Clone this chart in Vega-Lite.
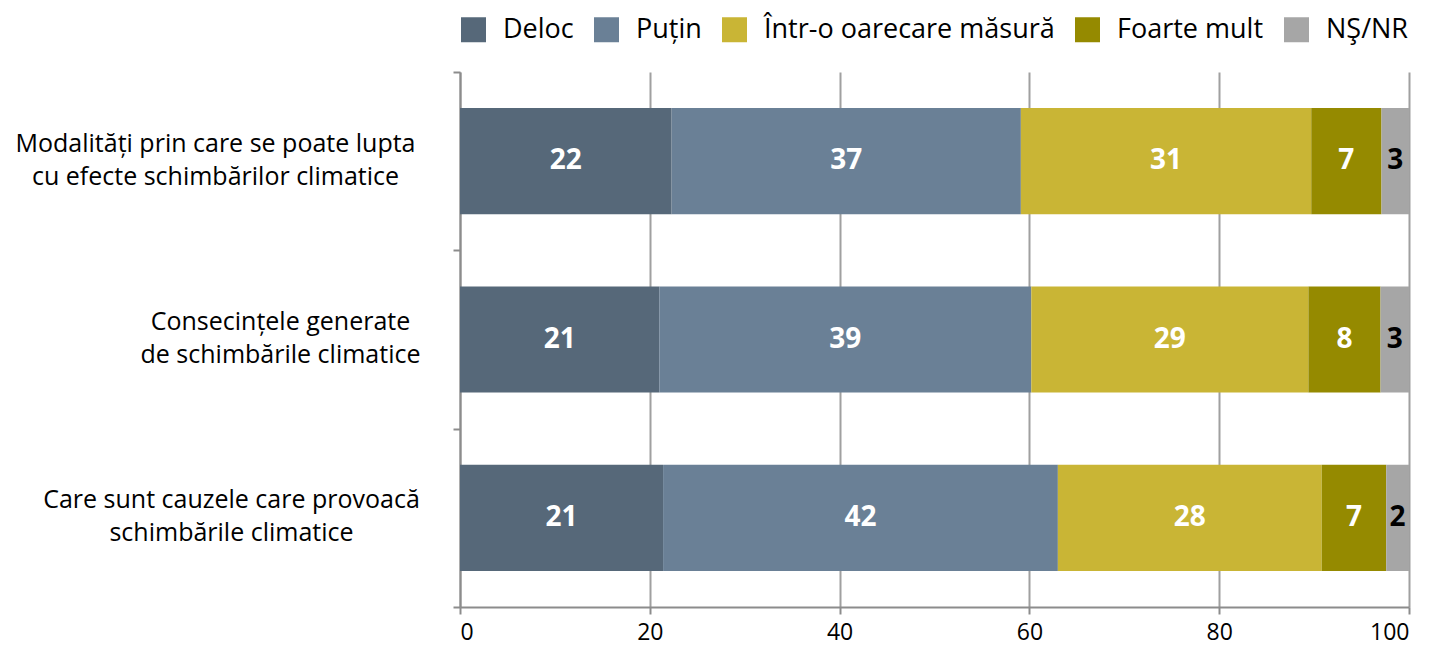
{
  "$schema": "https://vega.github.io/schema/vega-lite/v6.json",
  "autosize": "none",
  "width": 949,
  "height": 535,
  "padding": {"left": 460, "top": 72, "right": 24, "bottom": 39},
  "background": "white",
  "config": {
    "view": {"stroke": null},
    "font": "Open Sans"
  },
  "data": {
    "values": [
      {"q": "Modalități prin care se poate lupta\ncu efecte schimbărilor climatice", "cat": "Deloc", "ord": 1, "v": 22.3},
      {"q": "Modalități prin care se poate lupta\ncu efecte schimbărilor climatice", "cat": "Puțin", "ord": 2, "v": 36.8},
      {"q": "Modalități prin care se poate lupta\ncu efecte schimbărilor climatice", "cat": "Într-o oarecare măsură", "ord": 3, "v": 30.6},
      {"q": "Modalități prin care se poate lupta\ncu efecte schimbărilor climatice", "cat": "Foarte mult", "ord": 4, "v": 7.4},
      {"q": "Modalități prin care se poate lupta\ncu efecte schimbărilor climatice", "cat": "NŞ/NR", "ord": 5, "v": 2.9},
      {"q": "Consecințele generate\nde schimbările climatice", "cat": "Deloc", "ord": 1, "v": 21.0},
      {"q": "Consecințele generate\nde schimbările climatice", "cat": "Puțin", "ord": 2, "v": 39.2},
      {"q": "Consecințele generate\nde schimbările climatice", "cat": "Într-o oarecare măsură", "ord": 3, "v": 29.2},
      {"q": "Consecințele generate\nde schimbările climatice", "cat": "Foarte mult", "ord": 4, "v": 7.6},
      {"q": "Consecințele generate\nde schimbările climatice", "cat": "NŞ/NR", "ord": 5, "v": 3.0},
      {"q": "Care sunt cauzele care provoacă\nschimbările climatice", "cat": "Deloc", "ord": 1, "v": 21.4},
      {"q": "Care sunt cauzele care provoacă\nschimbările climatice", "cat": "Puțin", "ord": 2, "v": 41.6},
      {"q": "Care sunt cauzele care provoacă\nschimbările climatice", "cat": "Într-o oarecare măsură", "ord": 3, "v": 27.8},
      {"q": "Care sunt cauzele care provoacă\nschimbările climatice", "cat": "Foarte mult", "ord": 4, "v": 6.8},
      {"q": "Care sunt cauzele care provoacă\nschimbările climatice", "cat": "NŞ/NR", "ord": 5, "v": 2.4}
    ]
  },
  "encoding": {
    "y": {
      "field": "q",
      "type": "nominal",
      "sort": null,
      "title": null,
      "scale": {"paddingInner": 0, "paddingOuter": 0},
      "axis": {
        "tickBand": "extent",
        "labelExpr": "split(datum.label, '\\n')",
        "labelAlign": "center",
        "labelBaseline": "middle",
        "labelOffset": -18,
        "labelPadding": {
          "condition": [
            {"test": "datum.value === 'Modalități prin care se poate lupta\\ncu efecte schimbărilor climatice'", "value": 238},
            {"test": "datum.value === 'Consecințele generate\\nde schimbările climatice'", "value": 173}
          ],
          "value": 222
        },
        "labelFont": "Open Sans",
        "labelFontSize": 25,
        "labelLineHeight": 33,
        "labelColor": "#000000",
        "labelLimit": 600,
        "tickSize": 7,
        "tickWidth": 2,
        "tickColor": "#8c8c8c",
        "domainColor": "#8c8c8c",
        "domainWidth": 2,
        "grid": false
      }
    },
    "x": {
      "field": "v",
      "type": "quantitative",
      "stack": "zero",
      "scale": {"domain": [0, 100], "nice": false},
      "title": null,
      "axis": {
        "values": [0, 20, 40, 60, 80, 100],
        "labelFont": "Open Sans",
        "labelFontSize": 23,
        "labelColor": "#000000",
        "labelPadding": 7,
        "tickSize": 7,
        "tickWidth": 2,
        "tickColor": "#8c8c8c",
        "domainColor": "#8c8c8c",
        "domainWidth": 2,
        "grid": true,
        "gridColor": "#a0a0a0",
        "gridWidth": 2
      }
    },
    "order": {"field": "ord", "type": "quantitative"}
  },
  "layer": [
    {
      "mark": {"type": "bar", "height": {"band": 0.595}},
      "encoding": {
        "color": {
          "field": "cat",
          "type": "nominal",
          "scale": {
            "domain": ["Deloc", "Puțin", "Într-o oarecare măsură", "Foarte mult", "NŞ/NR"],
            "range": ["#566879", "#6a8096", "#c9b535", "#958a00", "#a6a6a6"]
          },
          "legend": {
            "title": null,
            "orient": "none",
            "direction": "horizontal",
            "legendX": 0,
            "legendY": -56,
            "symbolType": "square",
            "symbolSize": 625,
            "symbolStrokeWidth": 0,
            "symbolOpacity": 1,
            "labelFont": "Open Sans",
            "labelFontSize": 27,
            "labelColor": "#000000",
            "labelOffset": 16,
            "labelLimit": 500,
            "columnPadding": 19
          }
        }
      }
    },
    {
      "mark": {"type": "text", "font": "Open Sans", "fontSize": 28, "fontWeight": "bold", "baseline": "middle", "align": "center"},
      "encoding": {
        "x": {"field": "v", "type": "quantitative", "stack": "zero", "bandPosition": 0.5},
        "text": {"field": "v", "type": "quantitative", "format": ".0f"},
        "color": {
          "condition": {"test": "datum.cat === 'NŞ/NR'", "value": "#000000"},
          "value": "#ffffff"
        }
      }
    }
  ]
}
